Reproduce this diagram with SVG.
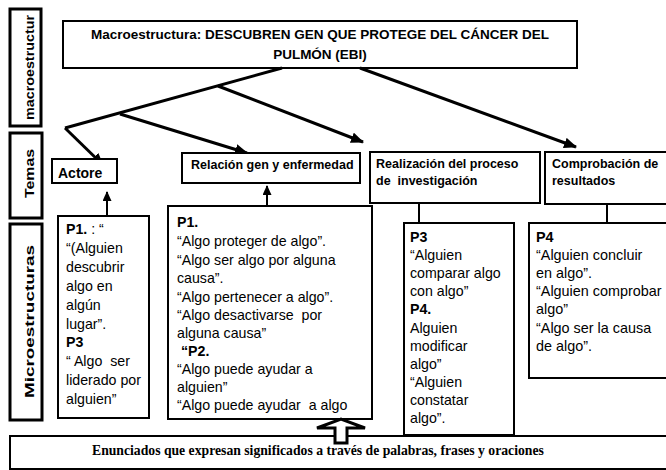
<svg xmlns="http://www.w3.org/2000/svg" width="666" height="470" viewBox="0 0 666 470">
<style>
.bx{fill:#fff;stroke:#000;stroke-width:2}
.lb{fill:#fff;stroke:#000;stroke-width:3}
.ln{stroke:#000;stroke-width:3;fill:none}
.up{stroke:#000;stroke-width:2;fill:none}
.t{font-family:"Liberation Sans",Arial,sans-serif;fill:#000}
.tb{font-family:"Liberation Sans",Arial,sans-serif;font-weight:bold;fill:#000}
.m{font-size:14.2px}
.m2{font-size:14.4px}
.th{font-size:12.5px}
.b{font-weight:bold}
</style>
<defs>
<marker id="ah" viewBox="0 0 12 10" refX="11" refY="5" markerWidth="13" markerHeight="11" markerUnits="userSpaceOnUse" orient="auto"><path d="M0,0L12,5L0,10z" fill="#000"/></marker>
<marker id="as" viewBox="0 0 10 9" refX="9" refY="4.5" markerWidth="10" markerHeight="9" markerUnits="userSpaceOnUse" orient="auto"><path d="M0,0L10,4.5L0,9z" fill="#000"/></marker>
<clipPath id="c1"><rect x="168" y="206" width="204" height="208"/></clipPath>
<clipPath id="c2"><rect x="404" y="223" width="110" height="208"/></clipPath>
</defs>

<g id="lbl-macro"><rect class="lb" x="10" y="9" width="31" height="117"/><text class="tb" font-size="13.5" transform="translate(34,67.5) rotate(-90)" text-anchor="middle" textLength="105" lengthAdjust="spacingAndGlyphs">macroestructur</text></g>
<g id="lbl-temas"><rect class="lb" x="10" y="133" width="32" height="85"/><text class="tb" font-size="13.5" transform="translate(34,173.5) rotate(-90)" text-anchor="middle" textLength="49" lengthAdjust="spacingAndGlyphs">Temas</text></g>
<g id="lbl-micro"><rect class="lb" x="10" y="224" width="32" height="196"/><text class="tb" font-size="13.5" transform="translate(34,321.5) rotate(-90)" text-anchor="middle" textLength="153" lengthAdjust="spacingAndGlyphs">Microestructuras</text></g>

<g id="title"><rect class="bx" x="63" y="21" width="514" height="47"/><text class="tb" font-size="13.5" text-anchor="middle"><tspan x="320" y="38.5">Macroestructura: DESCUBREN GEN QUE PROTEGE DEL CÁNCER DEL</tspan><tspan x="320" y="58.5">PULMÓN (EBI)</tspan></text></g>

<g id="connectors">
<line class="ln" x1="282" y1="68" x2="65" y2="128"/>
<line class="ln" x1="65" y1="128" x2="103" y2="165" marker-end="url(#ah)"/>
<line class="ln" x1="120" y1="114" x2="247" y2="153" marker-end="url(#ah)"/>
<line class="ln" x1="218" y1="86" x2="363" y2="142" marker-end="url(#ah)"/>
<line class="ln" x1="360" y1="68" x2="576" y2="147" marker-end="url(#ah)"/>
<line class="up" x1="107" y1="216" x2="107" y2="192" marker-end="url(#as)"/>
<line class="up" x1="267" y1="206" x2="267" y2="186" marker-end="url(#as)"/>
<line class="up" x1="419" y1="223" x2="419" y2="186" marker-end="url(#as)"/>
<line class="up" x1="607" y1="223" x2="607" y2="186" marker-end="url(#as)"/>
</g>

<g id="t-actore"><rect class="bx" x="52" y="159" width="65" height="24"/><text class="tb" font-size="14" x="58" y="178">Actore</text></g>
<g id="t-relacion"><rect class="bx" x="182" y="153" width="178" height="30"/><text class="tb th" x="191" y="169">Relación gen y enfermedad</text></g>
<g id="t-realizacion"><rect class="bx" x="370" y="152" width="170" height="51"/><text class="tb th" xml:space="preserve"><tspan x="376" y="168">Realización del proceso</tspan><tspan x="376" y="185">de  investigación</tspan></text></g>
<g id="t-comprobacion"><rect class="bx" x="545" y="152" width="130" height="52"/><text class="tb th"><tspan x="552" y="168">Comprobación de</tspan><tspan x="552" y="185">resultados</tspan></text></g>

<g id="m-actore"><rect class="bx" x="58" y="216" width="91" height="202"/><text class="t m" xml:space="preserve"><tspan x="66" y="234"><tspan class="b">P1.</tspan> : “</tspan><tspan x="66" y="252.9">“(Alguien</tspan><tspan x="66" y="271.8">descubrir</tspan><tspan x="66" y="290.7">algo en</tspan><tspan x="66" y="309.6">algún</tspan><tspan x="66" y="328.5">lugar”.</tspan><tspan x="66" y="347.4" class="b">P3</tspan><tspan x="66" y="366.3">“ Algo  ser</tspan><tspan x="66" y="385.2">liderado por</tspan><tspan x="66" y="404.1">alguien”</tspan></text></g>

<g id="m-relacion"><rect class="bx" x="168" y="206" width="204" height="213"/><g clip-path="url(#c1)"><text class="t m" xml:space="preserve"><tspan x="177" y="227" class="b">P1.</tspan><tspan x="177" y="246">“Algo proteger de algo”.</tspan><tspan x="177" y="264.5">“Algo ser algo por alguna</tspan><tspan x="177" y="283">causa”.</tspan><tspan x="177" y="301.5">“Algo pertenecer a algo”.</tspan><tspan x="177" y="320">“Algo desactivarse  por</tspan><tspan x="177" y="338">alguna causa”</tspan><tspan x="177" y="356" class="b"> “P2.</tspan><tspan x="177" y="374">“Algo puede ayudar a</tspan><tspan x="177" y="392">alguien”</tspan><tspan x="177" y="410">“Algo puede ayudar  a algo</tspan></text></g></g>

<g id="m-realizacion"><rect class="bx" x="404" y="223" width="110" height="212"/><g clip-path="url(#c2)"><text class="t m"><tspan x="410" y="242" class="b">P3</tspan><tspan x="410" y="260.1">“Alguien</tspan><tspan x="410" y="278.2">comparar algo</tspan><tspan x="410" y="296.3">con algo”</tspan><tspan x="410" y="314.4" class="b">P4.</tspan><tspan x="410" y="332.5">Alguien</tspan><tspan x="410" y="350.6">modificar</tspan><tspan x="410" y="368.7">algo”</tspan><tspan x="410" y="386.8">“Alguien</tspan><tspan x="410" y="404.9">constatar</tspan><tspan x="410" y="423">algo”.</tspan></text></g></g>

<g id="m-comprobacion"><rect class="bx" x="529" y="223" width="146" height="155"/><text class="t m2"><tspan x="536" y="242" class="b">P4</tspan><tspan x="536" y="260.1">“Alguien concluir</tspan><tspan x="536" y="278.2">en algo”.</tspan><tspan x="536" y="296.3">“Alguien comprobar</tspan><tspan x="536" y="314.4">algo”</tspan><tspan x="536" y="332.5">“Algo ser la causa</tspan><tspan x="536" y="350.6">de algo”.</tspan></text></g>

<g id="bottom"><rect class="bx" x="10" y="436" width="670" height="33"/><text font-family="'Liberation Serif','Times New Roman',serif" font-weight="bold" font-size="13.7" x="92" y="455">Enunciados que expresan significados a través de palabras, frases y oraciones</text></g>

<g id="block-arrow"><polygon points="335,443 335,428 317,428 341,419 365,428 347,428 347,443" fill="#fff" stroke="#000" stroke-width="3" stroke-linejoin="miter"/></g>
</svg>
